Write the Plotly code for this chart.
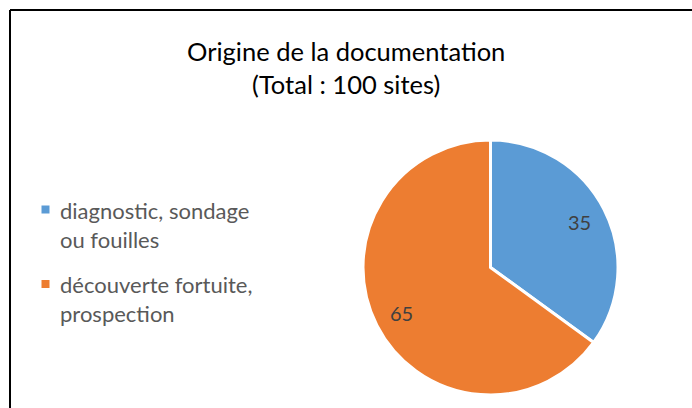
import math
import plotly.graph_objects as go

# Origine de la documentation des sites
categories = ["diagnostic, sondage<br>ou fouilles", "découverte fortuite,<br>prospection"]
values = [35, 65]
colors = ["#5B9BD5", "#ED7D31"]
title_lines = ["Origine de la documentation", "(Total : 100 sites)"]

W, H = 692, 408
FONT = "Lato, Calibri, Carlito, sans-serif"

# pie geometry in pixels
CX, CY, R = 490.5, 267.5, 127.5

fig = go.Figure(
    go.Pie(
        labels=categories,
        values=values,
        sort=False,
        direction="clockwise",
        rotation=0,
        marker=dict(colors=colors, line=dict(color="white", width=3)),
        textinfo="none",
        domain=dict(x=[(CX - R) / W, (CX + R) / W], y=[1 - (CY + R) / H, 1 - (CY - R) / H]),
        hoverinfo="label+value",
        showlegend=False,
    )
)

annotations = []
shapes = []

# value labels, placed along each slice's mid angle (clockwise from 12 o'clock)
total = sum(values)
cum = 0
for v in values:
    mid = (cum + v / 2) / total * 2 * math.pi
    cum += v
    px = CX + 0.78 * R * math.sin(mid)
    py = CY - 0.78 * R * math.cos(mid)
    annotations.append(dict(
        x=px / W, y=1 - py / H, xref="paper", yref="paper",
        text=str(v), showarrow=False, xanchor="center", yanchor="middle",
        font=dict(family=FONT, size=20, color="#404040"),
    ))

# title
annotations.append(dict(
    x=346 / W, y=1 - 67.5 / H, xref="paper", yref="paper",
    text="<br>".join(title_lines), showarrow=False,
    xanchor="center", yanchor="middle", align="center",
    font=dict(family=FONT, size=25.5, color="#000000"),
))

# legend: coloured square + two-line label per category
legend_rows = [209.5, 284]
for lab, col, yc in zip(categories, colors, legend_rows):
    shapes.append(dict(
        type="rect", xref="paper", yref="paper",
        x0=41.5 / W, x1=49.5 / W, y0=1 - (yc + 4) / H, y1=1 - (yc - 4) / H,
        fillcolor=col, line=dict(width=0),
    ))
    annotations.append(dict(
        x=58 / W, y=1 - (yc - 15) / H, xref="paper", yref="paper",
        text=lab, showarrow=False, xanchor="left", yanchor="top", align="left",
        font=dict(family=FONT, size=22, color="#595959"),
    ))

# chart frame (top and left edges)
shapes += [
    dict(type="line", xref="paper", yref="paper",
         x0=10 / W, x1=1, y0=1 - 10 / H, y1=1 - 10 / H,
         line=dict(color="black", width=2)),
    dict(type="line", xref="paper", yref="paper",
         x0=10 / W, x1=10 / W, y0=0, y1=1 - 10 / H,
         line=dict(color="black", width=2)),
]

fig.update_layout(
    width=W,
    height=H,
    margin=dict(l=0, r=0, t=0, b=0),
    paper_bgcolor="white",
    plot_bgcolor="white",
    font=dict(family=FONT),
    showlegend=False,
    annotations=annotations,
    shapes=shapes,
)

fig.write_html("out.html")
